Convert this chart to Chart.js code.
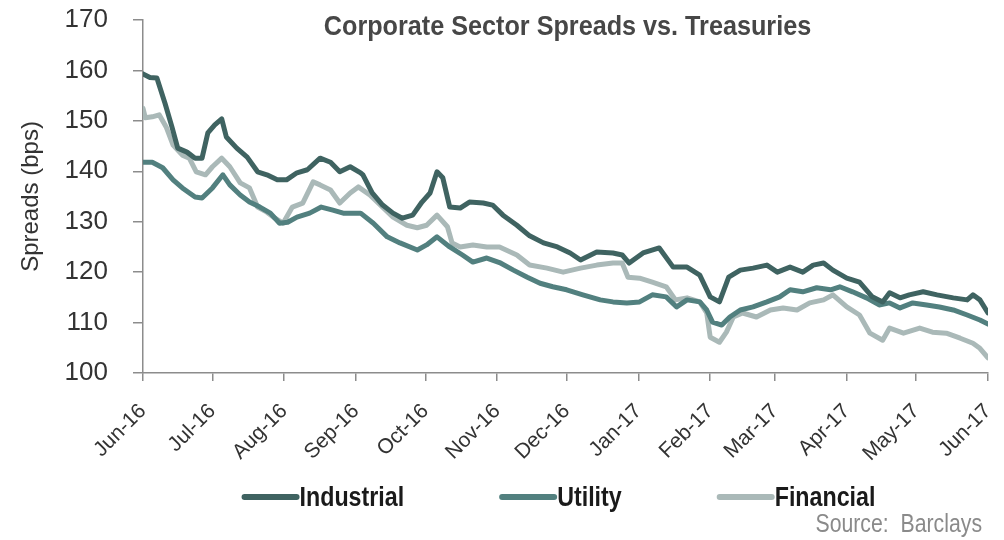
<!DOCTYPE html>
<html>
<head>
<meta charset="utf-8">
<script src="https://cdn.jsdelivr.net/npm/chart.js@4.4.0/dist/chart.umd.min.js"></script>
<style>
  html, body { margin: 0; padding: 0; background: #fff; }
  #wrap { width: 1004px; height: 540px; position: relative; }
</style>
</head>
<body>
<div id="wrap"><canvas id="spreads"></canvas></div>
<script>
// month ticks: days after 1 Jun 2016
const monthLabels = ['Jun-16','Jul-16','Aug-16','Sep-16','Oct-16','Nov-16','Dec-16','Jan-17','Feb-17','Mar-17','Apr-17','May-17','Jun-17'];
const monthDays = [0, 30, 61, 92, 122, 153, 183, 214, 245, 273, 304, 334, 365];
const yTicks = [100, 110, 120, 130, 140, 150, 160, 170];

const chartTitle = 'Corporate Sector Spreads vs. Treasuries';
const yTitle = 'Spreads (bps)';
const sourceNote = 'Source:  Barclays';

// Industrial
const industrialDays = [0,3,6,9.5,12.5,15,19,22.5,25.5,28,31,34,36,40.5,45,49.5,53.5,58,62,66.5,71,76.5,81,85,89.5,94,95,99,103.5,108,112,116.5,120.5,124,127,129.5,132.5,137,141,147,151,155.5,161.5,167,173,179,184.5,189,196,203,207,210,216,223,229,235,240.5,245,249,253,258,263.5,269.5,274,279.5,285,289.5,294,298,304,309.5,315,319.5,322.5,327,331,337,343,350,356,358.5,361.5,365];
const industrialValues = [159.3,158.6,158.5,153.5,148.8,144.6,143.8,142.6,142.6,147.6,149.2,150.4,146.8,144.6,142.8,139.9,139.3,138.3,138.3,139.7,140.3,142.6,141.8,139.9,140.9,139.7,139.3,135.7,133.3,131.7,130.7,131.3,133.9,135.7,139.9,138.7,132.9,132.7,133.9,133.7,133.3,131.3,129.3,127.2,125.8,125.0,123.8,122.4,124.0,123.8,123.4,121.8,123.8,124.8,121.0,121.0,119.4,115.1,114.1,119.0,120.4,120.8,121.4,120.0,121.0,120.0,121.4,121.8,120.4,118.8,118.0,115.1,114.1,115.9,114.9,115.5,116.1,115.5,114.9,114.5,115.5,114.5,111.9];

// Utility
const utilityDays = [0,4,8.5,13,17,22.5,25.5,30,34.5,37.5,42,46,50.5,55,59,62.5,66.5,72,77,82,86.5,94,99.5,105.5,111,118.5,122.5,127,132.5,138,142.5,148.5,154,160,166,171.5,177,183,190,197.5,203,209,214.5,220,226,230.5,235,240.5,243.5,246,250,253.5,258,263.5,269.5,275,279.5,285,291,297,301,306.5,312.5,318,322.5,327,332.5,338.5,344,350,356,361.5,365];
const utilityValues = [141.8,141.8,140.7,138.3,136.7,134.9,134.7,136.7,139.3,137.3,135.3,133.9,132.9,131.7,129.7,129.9,130.9,131.7,132.9,132.3,131.7,131.7,129.7,127.0,125.8,124.4,125.4,127.0,125.0,123.4,122.0,122.8,121.9,120.4,119.0,117.8,117.1,116.5,115.5,114.5,114.1,113.9,114.1,115.5,115.1,113.1,114.5,114.1,112.5,110.1,109.5,111.1,112.5,113.1,114.1,115.1,116.5,116.1,116.9,116.5,117.1,116.1,114.9,113.5,113.9,112.9,113.9,113.5,113.1,112.5,111.5,110.5,109.7];

// Financial
const financialDays = [0,1,4,7,10,13,17,20,23,27,30,34,37.5,42,46,49.5,53.5,57,60.5,64.5,69,73.5,76.5,81,85,89.5,93,98,102.5,108,114,118.5,122.5,127,131.5,133.5,137,142.5,148.5,154,161.5,167,174.5,181.5,189,196,203,207,209.5,214.5,220,226,230,235,240.5,243.5,245,249,252,255,259,265,271,276.5,282.5,288,294,298,304,309.5,314,319.5,322.5,328.5,335.5,341,347,353,358.5,361.5,365];
const financialValues = [152.5,150.6,150.8,151.2,148.8,145.2,143.2,142.6,139.9,139.3,140.9,142.6,140.9,137.7,136.7,132.9,131.9,130.7,129.7,132.9,133.7,137.9,137.3,136.3,133.7,135.7,136.9,135.3,133.3,130.9,129.3,128.8,129.3,131.3,129.0,125.8,125.0,125.4,125.0,125.0,123.4,121.4,120.8,120.0,120.8,121.4,121.8,121.8,119.0,118.8,118.0,117.1,114.5,114.9,114.1,111.9,107.1,106.1,108.1,111.1,111.9,111.1,112.5,112.9,112.5,113.9,114.5,115.5,113.1,111.5,107.9,106.5,108.9,107.9,108.9,108.1,107.9,106.9,105.9,104.9,103.0];

const seriesNames = ['Industrial', 'Utility', 'Financial'];
const seriesColors = ['#3f6361', '#52807f', '#aab9b8'];

function toPoints(days, values) {
  return days.map((d, i) => ({ x: d, y: values[i] }));
}

const seriesPoints = [
  toPoints(industrialDays, industrialValues),
  toPoints(utilityDays, utilityValues),
  toPoints(financialDays, financialValues)
];

// condensed text: no narrow font installed, so squeeze horizontally
function narrowText(ctx, text, x, y, sx, align) {
  const w = ctx.measureText(text).width * sx;
  let left = x;
  if (align === 'center') left = x - w / 2;
  if (align === 'right') left = x - w;
  ctx.save();
  ctx.translate(left, y);
  ctx.scale(sx, 1);
  ctx.textAlign = 'left';
  ctx.fillText(text, 0, 0);
  ctx.restore();
  return w;
}

// title, legend and source note drawn on top of the chart
const extras = {
  id: 'extras',
  afterDraw(chart) {
    const ctx = chart.ctx;
    const area = chart.chartArea;
    ctx.save();
    ctx.textBaseline = 'middle';

    ctx.font = 'bold 28px "Liberation Sans"';
    ctx.fillStyle = '#474747';
    narrowText(ctx, chartTitle, (area.left + area.right) / 2 + 2, 27, 0.9, 'center');

    ctx.font = 'bold 28px "Liberation Sans"';
    const sx = 0.83;
    const lineLen = 55, gap = 3, spacing = 95;
    const widths = seriesNames.map(n => lineLen + gap + ctx.measureText(n).width * sx);
    const total = widths.reduce((a, b) => a + b, 0) + spacing * (widths.length - 1);
    let x = (area.left + area.right) / 2 - 7 - total / 2;
    const y = area.bottom + 124;
    seriesNames.forEach((name, i) => {
      ctx.strokeStyle = seriesColors[i];
      ctx.lineWidth = 6;
      ctx.lineCap = 'round';
      ctx.beginPath();
      ctx.moveTo(x + 3, y);
      ctx.lineTo(x + lineLen, y);
      ctx.stroke();
      ctx.fillStyle = '#1a1a1a';
      narrowText(ctx, name, x + lineLen + gap, y + 1, sx, 'left');
      x += widths[i] + spacing;
    });

    ctx.font = '25px "Liberation Sans"';
    ctx.fillStyle = '#8a8a8a';
    narrowText(ctx, sourceNote, 982, area.bottom + 152, 0.85, 'right');
    ctx.restore();
  }
};

const axisGray = '#8c8c8c';

new Chart(document.getElementById('spreads').getContext('2d'), {
  type: 'line',
  data: {
    datasets: seriesNames.map((name, i) => ({
      label: name,
      data: seriesPoints[i],
      borderColor: seriesColors[i],
      backgroundColor: seriesColors[i],
      borderWidth: 5,
      borderJoinStyle: 'round',
      borderCapStyle: 'round',
      pointRadius: 0,
      tension: 0,
      fill: false
    }))
  },
  options: {
    responsive: true,
    maintainAspectRatio: false,
    animation: false,
    layout: { padding: { top: 20, right: 16, bottom: 0, left: 0 } },
    scales: {
      x: {
        type: 'linear',
        min: 0,
        max: 365,
        afterBuildTicks: scale => { scale.ticks = monthDays.map(v => ({ value: v })); },
        afterFit: scale => {
          scale.height = 167;
          scale.paddingLeft = 0;
          scale.paddingRight = 0;
        },
        ticks: {
          autoSkip: false,
          minRotation: 45,
          maxRotation: 45,
          padding: 18,
          color: '#333',
          font: { family: 'Liberation Sans', size: 21 },
          callback: (value, index) => monthLabels[index]
        },
        grid: { drawOnChartArea: false, tickLength: 8, color: axisGray, lineWidth: 1.5 },
        border: { color: axisGray, width: 1.5 }
      },
      y: {
        min: 100,
        max: 170,
        afterBuildTicks: scale => { scale.ticks = yTicks.map(v => ({ value: v })); },
        afterFit: scale => {
          scale.width = 143;
          scale.paddingTop = 0;
          scale.paddingBottom = 0;
        },
        ticks: {
          padding: 25,
          color: '#333',
          font: { family: 'Liberation Sans', size: 26 }
        },
        grid: { drawOnChartArea: false, tickLength: 10, color: axisGray, lineWidth: 1.5 },
        border: { color: axisGray, width: 1.5 },
        title: {
          display: true,
          text: yTitle,
          color: '#333',
          font: { family: 'Liberation Sans', size: 24 },
          padding: { top: 17, bottom: 0 }
        }
      }
    },
    plugins: {
      legend: { display: false },
      tooltip: { enabled: false }
    }
  },
  plugins: [extras]
});
</script>
</body>
</html>
